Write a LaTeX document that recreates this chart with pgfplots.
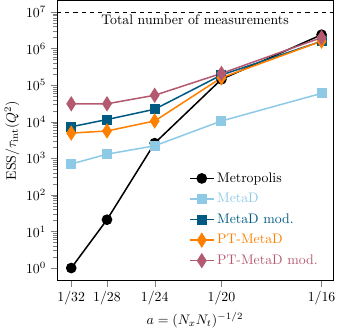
\documentclass[border=0pt]{standalone}
\usepackage{pgfplots}
\pgfplotsset{compat=1.18}
\definecolor{cLight}{RGB}{142,202,230}
\definecolor{cDark}{RGB}{0,90,130}
\definecolor{cOrange}{RGB}{255,128,0}
\definecolor{cPink}{RGB}{180,90,112}
\begin{document}
\begin{tikzpicture}
\begin{axis}[
    scale only axis,
    width=200pt, height=203pt,
    ymode=log,
    xmin=0.02945, xmax=0.06394,
    ymin=0.45, ymax=2.1e7,
    scaled x ticks=false,
    xtick={0.03125,0.0357142857,0.0416666667,0.05,0.0625},
    xticklabels={$1/32$,$1/28$,$1/24$,$1/20$,$1/16$},
    ytick={1,10,100,1000,10000,100000,1000000,10000000},
    tick align=outside,
    tick pos=left,
    xlabel={$a = (N_x N_t)^{-1/2}$},
    ylabel={$\mathrm{ESS}/\tau_{\mathrm{int}}(Q^2)$},
    xlabel style={yshift=2pt},
    ylabel style={yshift=-2pt},
    every axis plot/.append style={line width=1.1pt},
    legend style={at={(0.97,0.03)}, anchor=south east, draw=none, fill=none,
        row sep=2.5pt, font=\normalsize},
    legend cell align=left,
]
\addplot[black, thin, dashed, line width=0.5pt, forget plot] coordinates {(0.02945,1e7) (0.06394,1e7)};
\node[anchor=north, inner sep=2pt] at (axis cs:0.0467,1e7) {Total number of measurements};

\addplot[black, mark=*, mark size=3.3pt] coordinates {
    (0.03125,1) (0.0357142857,21) (0.0416666667,2.6e3) (0.05,1.45e5) (0.0625,2.4e6)};
\addlegendentry{Metropolis}
\addplot[cLight, mark=square*, mark size=3.1pt] coordinates {
    (0.03125,700) (0.0357142857,1.3e3) (0.0416666667,2.2e3) (0.05,1.05e4) (0.0625,6.0e4)};
\addlegendentry{\textcolor{cLight}{MetaD}}
\addplot[cDark, mark=square*, mark size=3.1pt] coordinates {
    (0.03125,7.3e3) (0.0357142857,1.15e4) (0.0416666667,2.2e4) (0.05,1.9e5) (0.0625,1.6e6)};
\addlegendentry{\textcolor{cDark}{MetaD mod.}}
\addplot[cOrange, mark=diamond*, mark size=4.6pt, mark options={xscale=0.85}] coordinates {
    (0.03125,4.9e3) (0.0357142857,5.6e3) (0.0416666667,1.05e4) (0.05,1.6e5) (0.0625,1.6e6)};
\addlegendentry{\textcolor{cOrange}{PT-MetaD}}
\addplot[cPink, mark=diamond*, mark size=4.6pt, mark options={xscale=0.85}] coordinates {
    (0.03125,3.1e4) (0.0357142857,3.1e4) (0.0416666667,5.3e4) (0.05,2.1e5) (0.0625,2.0e6)};
\addlegendentry{\textcolor{cPink}{PT-MetaD mod.}}
\end{axis}
\end{tikzpicture}
\end{document}
